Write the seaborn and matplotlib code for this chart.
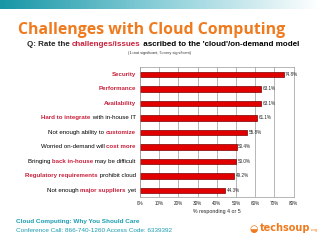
import numpy as np
import matplotlib
matplotlib.use('Agg')
import matplotlib.pyplot as plt
from matplotlib.colors import LinearSegmentedColormap
import seaborn as sns

# data
items = ['Security', 'Performance', 'Availability', 'Hard to integrate',
         'Not enough ability to customize', 'Worried on-demand will cost more',
         'Bringing back in-house', 'Regulatory requirements', 'Not enough major suppliers']
values = [74.8, 63.1, 63.1, 61.1, 55.8, 50.4, 50.0, 49.2, 44.3]
# label pieces: (text, highlighted)
label_parts = [
    [('Security', True)],
    [('Performance', True)],
    [('Availability', True)],
    [('Hard to integrate', True), (' with in-house IT', False)],
    [('Not enough ability to ', False), ('customize', True)],
    [('Worried on-demand will ', False), ('cost more', True)],
    [('Bringing ', False), ('back in-house', True), (' may be difficult', False)],
    [('Regulatory requirements', True), (' prohibit cloud', False)],
    [('Not enough ', False), ('major suppliers', True), (' yet', False)],
]
xticks = [0, 10, 20, 30, 40, 50, 60, 70, 80]

sns.set_style('white')
plt.rcParams['font.family'] = ['Liberation Sans', 'DejaVu Sans']

hl = '#c8203c'
teal = '#1a9cb0'
orange = '#f07a1e'

fig = plt.figure(figsize=(3.2, 2.4), dpi=100)

# teal gradient band on top
band = fig.add_axes([0, 1 - 9 / 240, 1, 9 / 240])
cmap = LinearSegmentedColormap.from_list('band', ['#1796a6', '#8ccfd9', '#ffffff'])
band.imshow(np.linspace(0, 1, 256)[None, :], aspect='auto', cmap=cmap)
band.axis('off')

fig.text(152 / 320, 1 - 30 / 240, 'Challenges with Cloud Computing', ha='center', va='center',
         color=orange, fontsize=11.4, fontweight='bold', family=['Open Sans', 'DejaVu Sans'])

# subtitle with highlighted words
t = fig.text(27 / 320, 1 - 45 / 240, 'Q: Rate the ', ha='left', va='center',
             fontsize=5.8, fontweight='bold')
for txt, col in [('challenges/issues', hl), (" ascribed to the 'cloud'/on-demand model", 'black')]:
    t = plt.annotate(txt, xy=(1, 0.5), xycoords=t, ha='left', va='center',
                     fontsize=5.8, fontweight='bold', color=col)
fig.text(0.5, 1 - 53 / 240, '(1=not significant, 5=very significant)', ha='center', va='center',
         fontsize=2.8, color='#333333')

ax = fig.add_axes([140 / 320, 1 - 197 / 240, 153.6 / 320, 130 / 240])
sns.barplot(x=values, y=items, ax=ax, orient='h', color='#e00000', width=0.38,
            edgecolor='#7a0000', linewidth=0.5, saturation=1)
ax.set_xlim(0, 80)
ax.set_ylim(8.45, -0.5)
ax.set_xticks(xticks)
ax.set_xticklabels([f'{v}%' for v in xticks], fontsize=3.3)
ax.tick_params(axis='x', length=0, pad=3)
ax.set_yticks([])
ax.set_ylabel('')
ax.set_xlabel('% responding 4 or 5', fontsize=3.8, labelpad=2)
ax.grid(axis='x', color='#9a9a9a', linewidth=0.5)
ax.set_axisbelow(True)
for s in ax.spines.values():
    s.set_color('#9a9a9a')
    s.set_linewidth(0.5)
ax.bar_label(ax.containers[0], labels=[f'{v:.1f}%' for v in values], fontsize=3.3, padding=1)

# category labels, built right to left
for i, parts in enumerate(label_parts):
    anchor = None
    for txt, is_hl in reversed(parts):
        kw = dict(fontsize=4.4, color=hl if is_hl else 'black',
                  fontweight='bold' if is_hl else 'normal', ha='right', va='center')
        if anchor is None:
            anchor = ax.text(-0.028, i, txt, transform=ax.get_yaxis_transform(), **kw)
        else:
            anchor = ax.annotate(txt, xy=(0, 0.5), xycoords=anchor, **kw)

# footer
fig.text(16 / 320, 1 - 222 / 240, 'Cloud Computing: Why You Should Care', ha='left', va='center',
         color=teal, fontsize=4.6, fontweight='bold')
fig.text(16 / 320, 1 - 231 / 240, 'Conference Call: 866-740-1260 Access Code: 6339392', ha='left',
         va='center', color=teal, fontsize=4.6)

# logo
logo = fig.text(260 / 320, 1 - 228 / 240, 'techsoup', ha='left', va='center', color=orange,
                fontsize=7, fontweight='bold', family=['DejaVu Sans'])
plt.annotate('.org', xy=(1, 0.25), xycoords=logo, ha='left', va='center', color=orange, fontsize=3.2)
fig.text(254 / 320, 1 - 229 / 240, '\u25D2', ha='center', va='center', color=orange, fontsize=7,
         family=['DejaVu Sans'])

fig.savefig('out.png', dpi=100)
